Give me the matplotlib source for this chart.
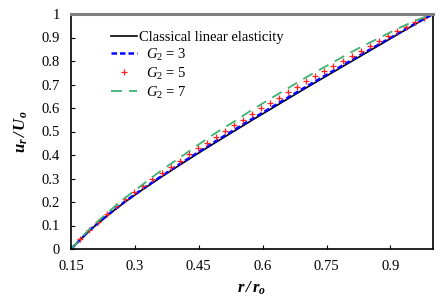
import matplotlib
matplotlib.use("Agg")
import matplotlib.pyplot as plt

plt.rcParams['font.family'] = ['Liberation Serif', 'DejaVu Serif']
plt.rcParams['mathtext.fontset'] = 'custom'
plt.rcParams['mathtext.rm'] = 'Liberation Serif'
plt.rcParams['mathtext.it'] = 'Liberation Serif:italic'
plt.rcParams['mathtext.bf'] = 'Liberation Serif:italic:bold'

# line data (r / r_o)
r_line = [0.15, 0.1925, 0.235, 0.2775, 0.32, 0.3625, 0.405, 0.4475, 0.49, 0.5325,
          0.575, 0.6175, 0.66, 0.7025, 0.745, 0.7875, 0.83, 0.8725, 0.915, 0.9575, 1.0]
classical = [0.0, 0.077, 0.142, 0.201, 0.255, 0.307, 0.357, 0.406, 0.454, 0.501,
             0.548, 0.594, 0.640, 0.686, 0.731, 0.776, 0.821, 0.866, 0.911, 0.956, 1.0]
g2_3 = [0.0, 0.078, 0.143, 0.203, 0.258, 0.310, 0.361, 0.410, 0.459, 0.506,
        0.553, 0.599, 0.645, 0.691, 0.736, 0.781, 0.826, 0.870, 0.914, 0.958, 1.0]
g2_7 = [0.0, 0.083, 0.154, 0.218, 0.277, 0.335, 0.388, 0.442, 0.494, 0.542,
        0.592, 0.639, 0.685, 0.731, 0.774, 0.817, 0.859, 0.897, 0.936, 0.971, 1.0]

# marker data for G2 = 5
r_pts = [0.15, 0.17125, 0.1925, 0.21375, 0.235, 0.25625, 0.2775, 0.29875, 0.32, 0.34125,
         0.3625, 0.38375, 0.405, 0.42625, 0.4475, 0.46875, 0.49, 0.51125, 0.5325, 0.55375,
         0.575, 0.59625, 0.6175, 0.63875, 0.66, 0.68125, 0.7025, 0.72375, 0.745, 0.76625,
         0.7875, 0.80875, 0.83, 0.85125, 0.8725, 0.89375, 0.915, 0.93625, 0.9575, 0.97875, 1.0]
g2_5 = [0.000, 0.043, 0.081, 0.116, 0.149, 0.181, 0.211, 0.241, 0.269, 0.297,
        0.324, 0.351, 0.376, 0.403, 0.428, 0.453, 0.478, 0.503, 0.527, 0.551,
        0.575, 0.598, 0.621, 0.644, 0.667, 0.690, 0.713, 0.735, 0.757, 0.779,
        0.801, 0.823, 0.844, 0.865, 0.885, 0.906, 0.926, 0.945, 0.965, 0.983, 1.000]

xticks = [0.15, 0.3, 0.45, 0.6, 0.75, 0.9]
xticklabels = ['0.15', '0.3', '0.45', '0.6', '0.75', '0.9']
yticks = [0, 0.1, 0.2, 0.3, 0.4, 0.5, 0.6, 0.7, 0.8, 0.9, 1.0]
yticklabels = ['0', '0.1', '0.2', '0.3', '0.4', '0.5', '0.6', '0.7', '0.8', '0.9', '1']

fig = plt.figure(figsize=(4.42, 3.04), dpi=100)
ax = fig.add_axes([71/442, 1 - 249/304, (433 - 71)/442, (249 - 14)/304])

ax.plot(r_line, classical, color='black', lw=1.2, label='Classical linear elasticity')
ax.plot(r_line, g2_3, color='#0000ff', lw=1.8, ls=(0, (2.2, 1.2)), label='  $G_2$ = 3')
ax.plot(r_pts, g2_5, ls='none', marker='+', color='#ff2020', ms=5, mew=0.9,
        label='  $G_2$ = 5')
ax.plot(r_line, g2_7, color='#3cb371', lw=1.3, ls=(0, (6, 4)), label='  $G_2$ = 7')

ax.set_xlim(0.15, 1.0)
ax.set_ylim(0, 1)
ax.set_xticks(xticks)
ax.set_xticklabels(xticklabels)
ax.set_yticks(yticks)
ax.set_yticklabels(yticklabels)
ax.tick_params(axis='both', direction='in', length=3, width=0.8, labelsize=10.5,
               colors='black')
ax.tick_params(axis='x', pad=8)
ax.tick_params(axis='y', pad=8)

for s in ['left', 'bottom', 'right']:
    ax.spines[s].set_color('black')
    ax.spines[s].set_linewidth(1.2)
ax.spines['top'].set_color('#808080')
ax.spines['top'].set_linewidth(2.2)

ax.set_xlabel(r'$\mathbf{r\,/\,r_o}$', fontsize=12, labelpad=5)
ax.set_ylabel(r'$\mathbf{u_r\,/\,U_o}$', fontsize=12, labelpad=8)

leg = ax.legend(loc='upper left', bbox_to_anchor=(0.094, 0.955), frameon=False,
                fontsize=10.5, handlelength=1.8, handletextpad=0.15,
                labelspacing=0.2, borderaxespad=0)

fig.savefig('out.png', dpi=100)
